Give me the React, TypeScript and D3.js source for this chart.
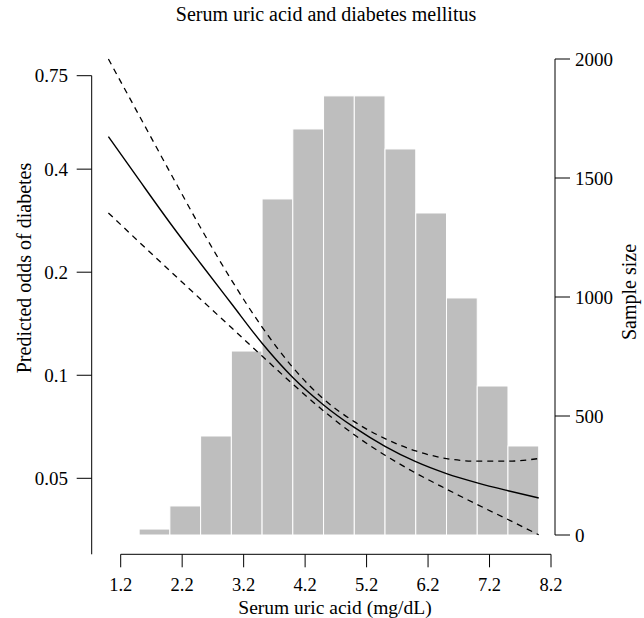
import * as d3 from 'd3';

// histogram: bins of 0.5 mg/dL
const binStarts = [1.5, 2.0, 2.5, 3.0, 3.5, 4.0, 4.5, 5.0, 5.5, 6.0, 6.5, 7.0, 7.5];
const binCounts = [25, 122, 416, 773, 1412, 1706, 1845, 1845, 1622, 1353, 996, 626, 374];

// predicted odds curve with 95% band
const curveX = [1.0, 1.5, 2.0, 2.5, 3.0, 3.5, 4.0, 4.5, 5.0, 5.5, 6.0, 6.5, 7.0, 7.5, 8.0];
const fitOdds = [0.498, 0.372, 0.279, 0.212, 0.162, 0.124, 0.0985, 0.0819, 0.0704, 0.062, 0.0559, 0.0516, 0.0485, 0.046, 0.0438];
const upperOdds = [0.839, 0.574, 0.3925, 0.2697, 0.19, 0.1383, 0.1054, 0.0852, 0.0732, 0.0653, 0.0601, 0.0571, 0.0561, 0.0561, 0.0571];
const lowerOdds = [0.298, 0.245, 0.2019, 0.1668, 0.1378, 0.1138, 0.0942, 0.0787, 0.067, 0.0584, 0.0518, 0.0465, 0.0419, 0.0379, 0.0342];

const xTicks = [1.2, 2.2, 3.2, 4.2, 5.2, 6.2, 7.2, 8.2];
const leftTicks = [0.05, 0.1, 0.2, 0.4, 0.75];
const rightTicks = [0, 500, 1000, 1500, 2000];

const W = 644;
const H = 618;
const font = '"Liberation Serif", "DejaVu Serif", serif';

export default function App() {
  const x = d3.scaleLinear().domain([1.2, 8.2]).range([120.7, 551]);
  const yL = d3.scaleLog().domain([0.05, 0.75]).range([478.3, 75.7]);
  const yR = d3.scaleLinear().domain([0, 2000]).range([535, 59]);

  const line = (vals: number[]) =>
    d3.line<number>()
      .x((_, i) => x(curveX[i]))
      .y((d) => yL(d))
      .curve(d3.curveMonotoneX)(vals) || '';

  const leftX = 91.7;
  const rightX = 555;
  const axisY = 554.3;

  return (
    <div style={{ position: 'absolute', left: 0, top: 0 }}>
      <svg width={W} height={H} style={{ display: 'block', background: '#fff' }} fontFamily={font}>
        <text x={326} y={21} textAnchor="middle" fontSize={20}>Serum uric acid and diabetes mellitus</text>

        {/* histogram */}
        {binStarts.map((s, i) => (
          <rect key={s} x={x(s)} y={yR(binCounts[i])} width={x(s + 0.5) - x(s)} height={yR(0) - yR(binCounts[i])}
            fill="#bebebe" stroke="#fff" strokeWidth={1} />
        ))}

        {/* curves */}
        <path d={line(upperOdds)} fill="none" stroke="#000" strokeWidth={1.3} strokeDasharray="6,5" />
        <path d={line(lowerOdds)} fill="none" stroke="#000" strokeWidth={1.3} strokeDasharray="6,5" />
        <path d={line(fitOdds)} fill="none" stroke="#000" strokeWidth={1.4} />

        {/* left axis */}
        <line x1={leftX} x2={leftX} y1={yL(0.75)} y2={axisY} stroke="#000" />
        {leftTicks.map((t) => (
          <g key={t} transform={`translate(0,${yL(t)})`}>
            <line x1={leftX - 15} x2={leftX} stroke="#000" />
            <text x={68} dy="0.35em" textAnchor="end" fontSize={19}>{String(t)}</text>
          </g>
        ))}
        <text transform="translate(31,268) rotate(-90)" textAnchor="middle" fontSize={20}>Predicted odds of diabetes</text>

        {/* right axis */}
        <line x1={rightX} x2={rightX} y1={yR(2000)} y2={yR(0)} stroke="#000" />
        {rightTicks.map((t) => (
          <g key={t} transform={`translate(0,${yR(t)})`}>
            <line x1={rightX} x2={rightX + 15} stroke="#000" />
            <text x={575} dy="0.35em" textAnchor="start" fontSize={19}>{String(t)}</text>
          </g>
        ))}
        <text transform="translate(636,292) rotate(-90)" textAnchor="middle" fontSize={20}>Sample size</text>

        {/* bottom axis */}
        <line x1={x(1.2)} x2={x(8.2)} y1={axisY} y2={axisY} stroke="#000" />
        {xTicks.map((t) => (
          <g key={t} transform={`translate(${x(t)},0)`}>
            <line y1={axisY} y2={axisY + 13} stroke="#000" />
            <text y={591} textAnchor="middle" fontSize={18.5}>{t.toFixed(1)}</text>
          </g>
        ))}
        <text x={335} y={614} textAnchor="middle" fontSize={19.5}>Serum uric acid (mg/dL)</text>
      </svg>
    </div>
  );
}
